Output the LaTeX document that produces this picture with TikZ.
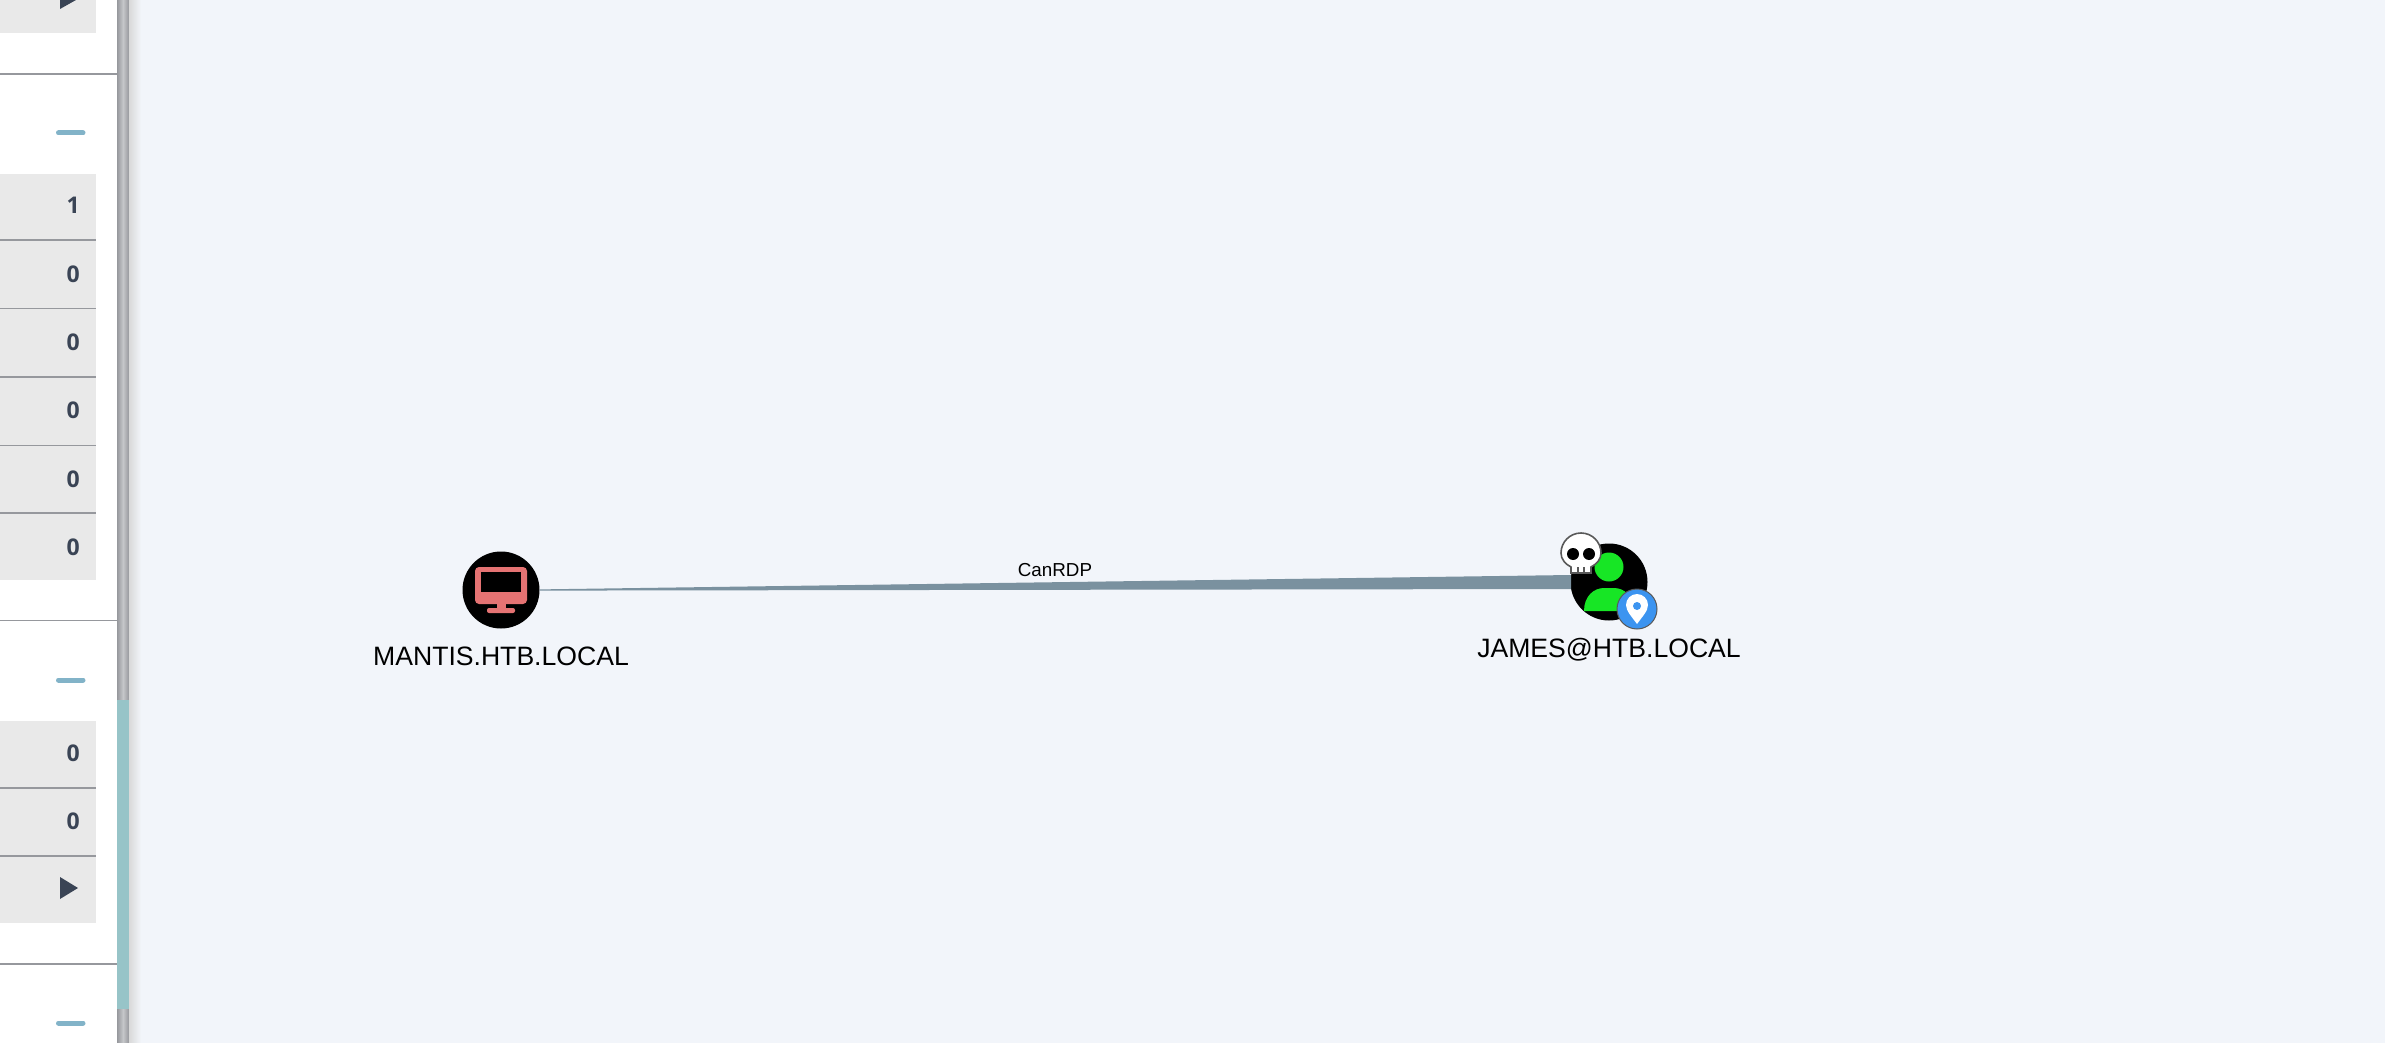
\documentclass[tikz,border=0pt]{standalone}
\usepackage{fontspec}
\setmainfont{Liberation Sans}
\newfontfamily\digitfont{Open Sans}
\usetikzlibrary{calc}
\definecolor{canvasbg}{HTML}{F2F5FA}
\definecolor{rowgray}{HTML}{E9E9E9}
\definecolor{ruleline}{HTML}{96989D}
\definecolor{inkslate}{HTML}{3A4455}
\definecolor{dashblue}{HTML}{82B3C8}
\definecolor{edgeslate}{HTML}{7A919F}
\definecolor{hostred}{HTML}{E57373}
\definecolor{usergreen}{HTML}{17E625}
\definecolor{pinblue}{HTML}{3C94F0}
\definecolor{scrollteal}{HTML}{97C4C8}
\tikzset{
	entitydisc/.style={circle,fill=black,minimum size=77pt,inner sep=0pt},
	entitylabel/.style={font=\fontsize{26.6}{30}\selectfont,text=black,inner sep=0pt},
	edgelabel/.style={font=\fontsize{18.8}{22}\selectfont,text=black,inner sep=0pt},
	countnum/.style={font=\digitfont\bfseries\fontsize{23}{26}\selectfont,text=inkslate,inner sep=0pt,anchor=east},
	badgedisc/.style={circle,minimum size=40pt,inner sep=0pt,draw=black!65,line width=1pt},
	collapsedash/.style={line width=5pt,dashblue,line cap=round},
}
\begin{document}
\begin{tikzpicture}[x=1pt,y=-1pt,declare function={barL=117; barR=129; rowR=96;}]
	\useasboundingbox (0,0) rectangle (2385,1043);
	\fill[canvasbg] (0,0) rectangle (2385,1043);
	\fill[white] (0,0) rectangle (barL,1043);
	% sidebar rows
	\foreach \ya/\yb in {0/33,174/580,721/923}{
		\fill[rowgray] (0,\ya) rectangle (rowR,\yb);
	}
	\foreach \y in {240,308.5,377,445.5,513,788,856}{
		\draw[ruleline,line width=1.6pt] (0,\y) -- (rowR,\y);
	}
	\foreach \y in {74,620.5,964}{
		\draw[ruleline,line width=1.6pt] (0,\y) -- (barL,\y);
	}
	\foreach \y in {133,680,1023}{
		\draw[collapsedash] (58.5,\y) -- (83,\y);
	}
	\foreach \n/\y/\t in {a/205/1,b/274/0,c/342/0,d/410/0,e/479/0,f/547/0,g/753/0,h/821/0}{
		\node[countnum] (count\n) at (80,\y) {\t};
	}
	\fill[inkslate] (60,0) -- (76,0) -- (60,9) -- cycle;
	\fill[inkslate] (60,877) -- (78,888) -- (60,899) -- cycle;
	% scrollbar
	\shade[left color=ruleline,right color=ruleline,middle color=ruleline!55!white] (barL,0) rectangle (barR,1043);
	\shade[left color=black!15,right color=canvasbg] (barR,0) rectangle (barR+12,1043);
	\fill[scrollteal] (barL,700) rectangle (barR,1009);
	% entities
	\node[entitydisc] (mantis) at (501,590) {};
	\node[entitydisc] (james) at (1609,582) {};
	\node[entitylabel] (mantislabel) at (501,656.5) {MANTIS.HTB.LOCAL};
	\node[entitylabel] (jameslabel) at (1609,649.5) {JAMES@HTB.LOCAL};
	% edge
	\fill[edgeslate] ($(mantis.east)+(0,-0.6)$) -- ($(james.center)+(-38,-7)$) -- ($(james.center)+(-38,7)$) -- ($(mantis.east)+(0,0.6)$) -- cycle;
	\node[edgelabel] (rdplabel) at (1055,570) {CanRDP};
	% monitor
	\fill[hostred,rounded corners=4pt] (475,567) rectangle (527,604);
	\fill[black] (481,572) rectangle (521,592);
	\fill[hostred] (497,604) rectangle (506,610);
	\fill[hostred,rounded corners=2pt] (487,608) rectangle (515,613);
	% user
	\fill[usergreen] (1609,567) circle (14.5);
	\fill[usergreen] (1584,611) .. controls (1584,596) and (1594,588) .. (1604,588) -- (1614,588) .. controls (1624,588) and (1634,596) .. (1634,611) -- cycle;
	% pin badge
	\node[badgedisc,fill=pinblue] (pinbadge) at (1637,609) {};
	\fill[white] (1637,624) .. controls (1632,617) and (1626,611) .. (1626,605) arc (180:360:11) .. controls (1648,611) and (1642,617) .. (1637,624) -- cycle;
	\fill[pinblue] (1637,606) circle (4);
	% skull badge
	\draw[black!65,line width=1.6pt,fill=white] (1571,573) -- (1571,567) .. controls (1565,564) and (1561,559) .. (1561,553) arc (180:360:20) .. controls (1601,559) and (1597,564) .. (1591,567) -- (1591,573) -- cycle;
	\foreach \x in {1573,1589}{
		\fill[black] (\x,554) circle (6);
	}
	\foreach \x in {1578,1584}{
		\draw[black!65,line width=1.2pt] (\x,567) -- (\x,573);
	}
\end{tikzpicture}
\end{document}
